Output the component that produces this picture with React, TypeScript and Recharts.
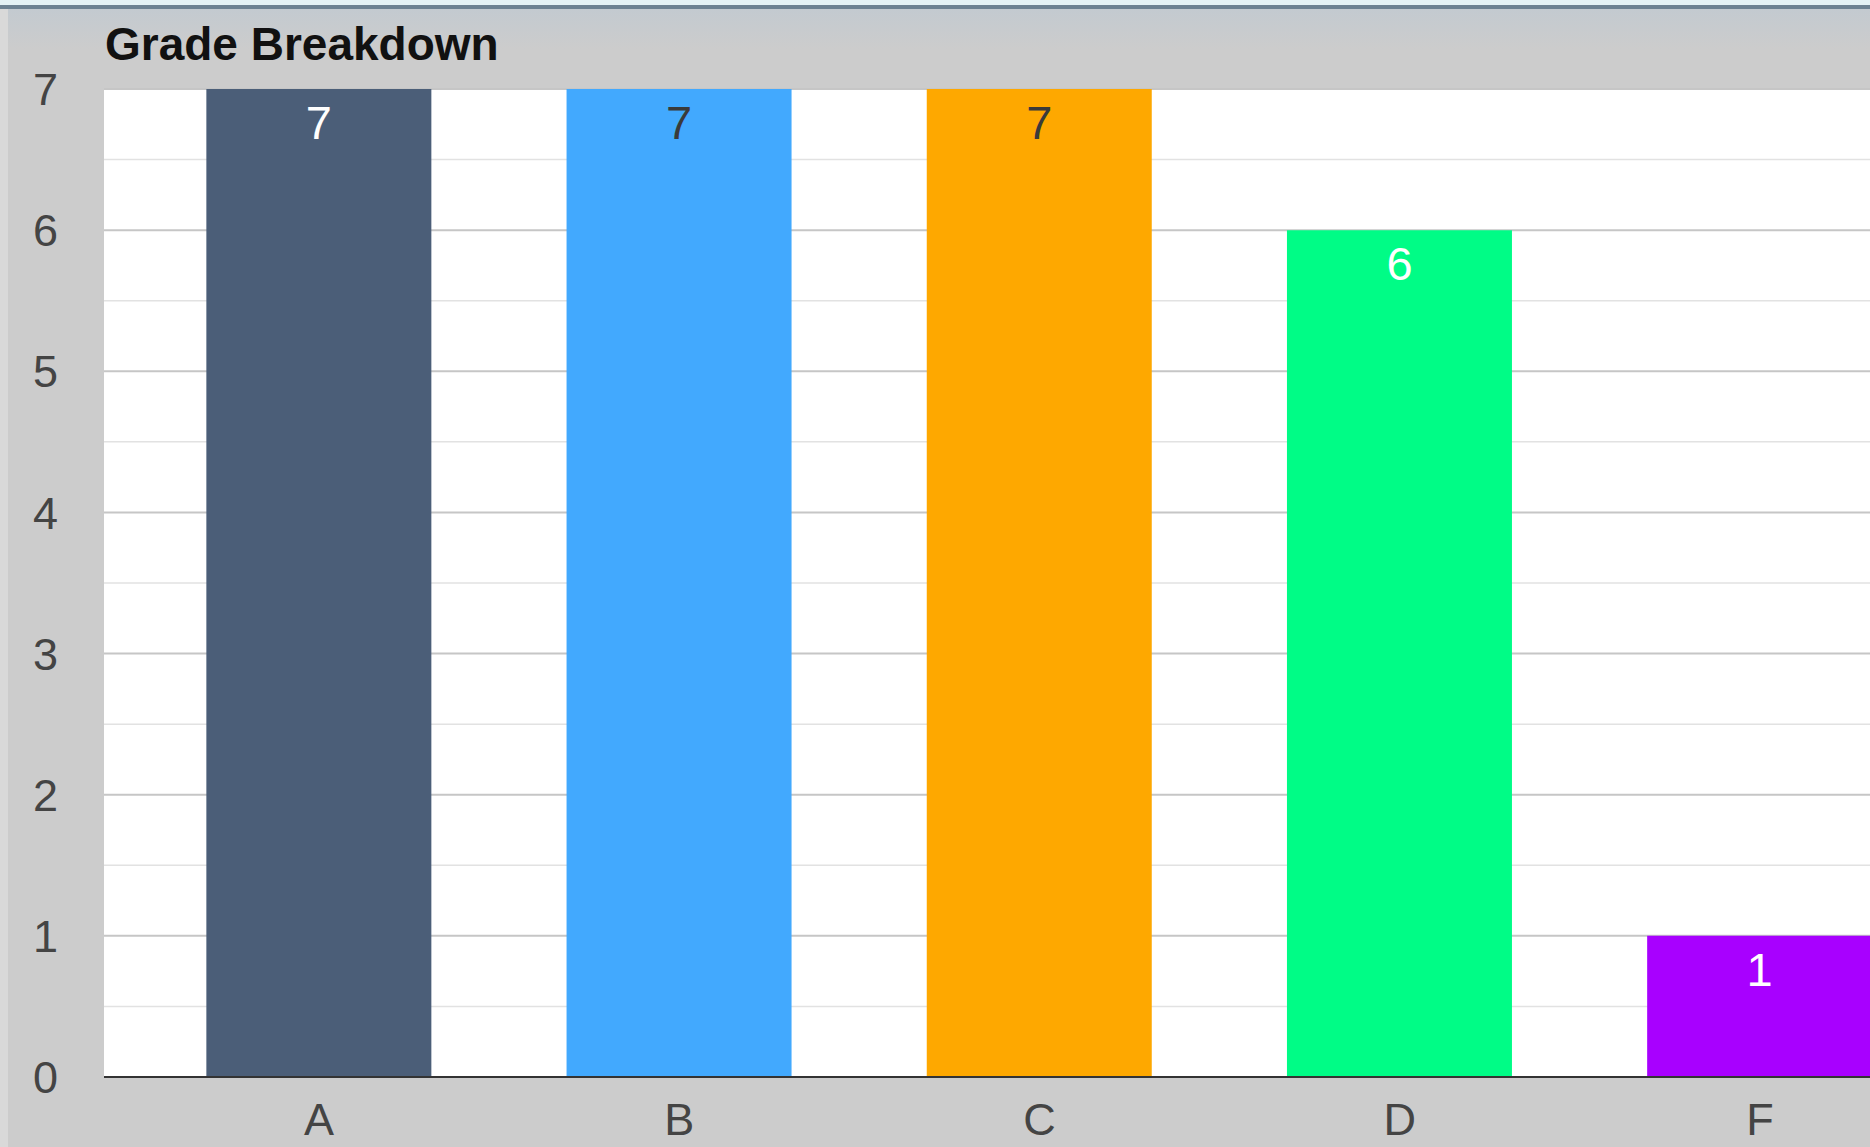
import React from 'react';
import { Bar, BarChart, CartesianGrid, Cell, LabelList, XAxis, YAxis } from 'recharts';

const grades = ['A', 'B', 'C', 'D', 'F'];
const counts = [7, 7, 7, 6, 1];
const yTicks = [0, 1, 2, 3, 4, 5, 6, 7];
const minorTicks = [0.5, 1.5, 2.5, 3.5, 4.5, 5.5, 6.5];
const yMax = 7;

const barColors = ['#4b5e78', '#42a9fe', '#fea800', '#00fc86', '#a800ff'];
const labelColors = ['#ffffff', '#3a3a3a', '#3a3a3a', '#ffffff', '#ffffff'];

const chartData = grades.map((grade, i) => ({ grade, count: counts[i] }));

const FONT = '"Liberation Sans", Arial, sans-serif';

// minor (half-step) grid lines, placed through the y axis scale
const minorLines = ({ yAxis, offset }: any) => {
  if (yAxis && typeof yAxis.scale === 'function') {
    return minorTicks.map(v => yAxis.scale(v));
  }
  return minorTicks.map(v => offset.top + offset.height * (1 - v / yMax));
};

const YTick = (props: any) => {
  const { y, payload } = props;
  return (
    <text x={58} y={y} dy="0.36em" textAnchor="end" fontFamily={FONT} fontSize={45} fill="#444">
      {payload.value}
    </text>
  );
};

const XTick = (props: any) => {
  const { x, y, payload } = props;
  return (
    <text x={x} y={y + 50} textAnchor="middle" fontFamily={FONT} fontSize={45} fill="#444">
      {payload.value}
    </text>
  );
};

const BarLabel = (props: any) => {
  const { x, y, width, value, index } = props;
  return (
    <text
      x={x + width / 2}
      y={y + 50}
      textAnchor="middle"
      fontFamily={FONT}
      fontSize={47}
      fill={labelColors[index]}
    >
      {value}
    </text>
  );
};

export default function App() {
  return (
    <div
      style={{
        position: 'absolute',
        left: 0,
        top: 0,
        width: 1870,
        height: 1147,
        overflow: 'hidden',
        background: '#cccccc',
      }}
    >
      {/* window frame at the top and left */}
      <div style={{ position: 'absolute', left: 0, top: 0, width: 1870, height: 5, background: '#e4f2f5' }} />
      <div style={{ position: 'absolute', left: 0, top: 5, width: 1870, height: 4, background: '#6d8292' }} />
      <div
        style={{
          position: 'absolute',
          left: 0,
          top: 9,
          width: 1870,
          height: 40,
          background: 'linear-gradient(#c3cad0, #cccccc)',
        }}
      />
      <div style={{ position: 'absolute', left: 0, top: 9, width: 8, height: 1138, background: '#d9d9d9' }} />
      <div
        style={{
          position: 'absolute',
          left: 105,
          top: 21,
          fontFamily: FONT,
          fontSize: 46,
          lineHeight: '46px',
          fontWeight: 'bold',
          color: '#111',
          whiteSpace: 'nowrap',
        }}
      >
        Grade Breakdown
      </div>
      <div style={{ position: 'absolute', left: 0, top: 0 }}>
        <BarChart
          width={1940}
          height={1147}
          data={chartData}
          margin={{ top: 89, right: 0, left: 0, bottom: 0 }}
          barCategoryGap="18.7%"
        >
          <CartesianGrid
            vertical={false}
            fill="#ffffff"
            stroke="#e2e2e2"
            strokeWidth={1.5}
            horizontalCoordinatesGenerator={minorLines}
          />
          <CartesianGrid vertical={false} stroke="#c6c6c6" strokeWidth={2} />
          <XAxis
            dataKey="grade"
            height={70}
            tickLine={false}
            axisLine={{ stroke: '#333', strokeWidth: 2 }}
            tick={<XTick />}
            interval={0}
            padding={{ left: 35, right: 0 }}
          />
          <YAxis
            width={104}
            domain={[0, yMax]}
            ticks={yTicks}
            axisLine={false}
            tickLine={false}
            tick={<YTick />}
            interval={0}
          />
          <Bar dataKey="count" isAnimationActive={false}>
            {chartData.map((entry, i) => (
              <Cell key={entry.grade} fill={barColors[i]} />
            ))}
            <LabelList dataKey="count" content={<BarLabel />} />
          </Bar>
        </BarChart>
      </div>
    </div>
  );
}
